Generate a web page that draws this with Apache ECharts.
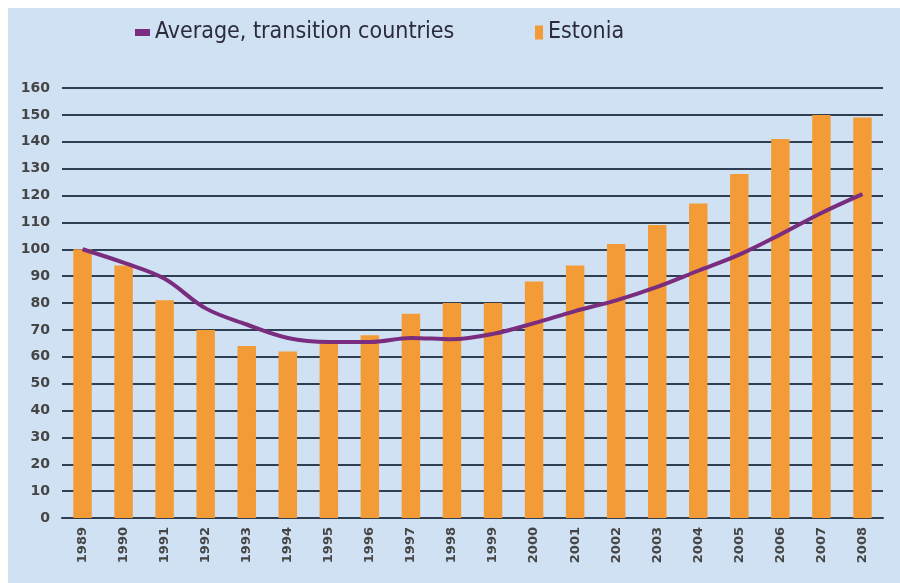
<!DOCTYPE html>
<html>
<head>
<meta charset="utf-8">
<script src="https://cdn.jsdelivr.net/npm/echarts@6/dist/echarts.min.js"></script>
<style>
  html, body { margin: 0; padding: 0; background: #fff; }
  #chart { position: absolute; left: 8px; top: 8px; width: 892px; height: 575px; }
</style>
</head>
<body>
<div id="chart"></div>
<script>
const years = ['1989', '1990', '1991', '1992', '1993', '1994', '1995', '1996', '1997', '1998',
  '1999', '2000', '2001', '2002', '2003', '2004', '2005', '2006', '2007', '2008'];
const estonia = [100, 94, 81, 70, 64, 62, 65, 68, 76, 80, 80, 88, 94, 102, 109, 117, 128, 141, 150, 149];
const averageTransition = [100, 95, 89, 78, 72, 67, 65.5, 65.5, 67, 66.5, 68.5, 72.5, 77, 81, 86, 92, 98, 105.5, 113.5, 120.5];

const chart = echarts.init(document.getElementById('chart'));

// legend text in the original is a condensed face
const legendText = {
  fontFamily: '"Liberation Sans Narrow", "DejaVu Sans Condensed", sans-serif',
  fontSize: 23,
  color: '#2b2b3b'
};

const tickFont = {
  color: '#454545',
  fontWeight: 'bold',
  fontFamily: '"DejaVu Sans", sans-serif'
};

const option = {
  backgroundColor: '#cfe1f3',
  animation: false,
  legend: [
    {
      data: ['Average, transition countries'],
      left: 122,
      top: 8,
      icon: 'rect',
      itemWidth: 15,
      itemHeight: 7,
      itemGap: 10,
      textStyle: legendText
    },
    {
      data: ['Estonia'],
      left: 522,
      top: 8,
      icon: 'rect',
      itemWidth: 8,
      itemHeight: 14,
      textStyle: legendText
    }
  ],
  grid: {
    left: 54,
    right: 17,
    top: 80,
    bottom: 65
  },
  xAxis: {
    type: 'category',
    data: years,
    axisLine: { show: true, lineStyle: { color: '#2f3e50', width: 2 } },
    axisTick: { show: false },
    axisLabel: Object.assign({ rotate: 90, margin: 9, fontSize: 13 }, tickFont)
  },
  yAxis: {
    type: 'value',
    min: 0,
    max: 160,
    interval: 10,
    axisLine: { show: false },
    axisTick: { show: false },
    axisLabel: Object.assign({ margin: 12, fontSize: 14 }, tickFont),
    splitLine: { show: true, lineStyle: { color: '#2f3e50', width: 2 } }
  },
  series: [
    {
      name: 'Estonia',
      type: 'bar',
      data: estonia,
      barWidth: '45%',
      itemStyle: { color: '#f39b36' },
      z: 2
    },
    {
      name: 'Average, transition countries',
      type: 'line',
      data: averageTransition,
      smooth: 0.35,
      symbol: 'none',
      lineStyle: { color: '#7a2c7e', width: 4 },
      itemStyle: { color: '#7a2c7e' },
      z: 3
    }
  ]
};

chart.setOption(option);
</script>
</body>
</html>
